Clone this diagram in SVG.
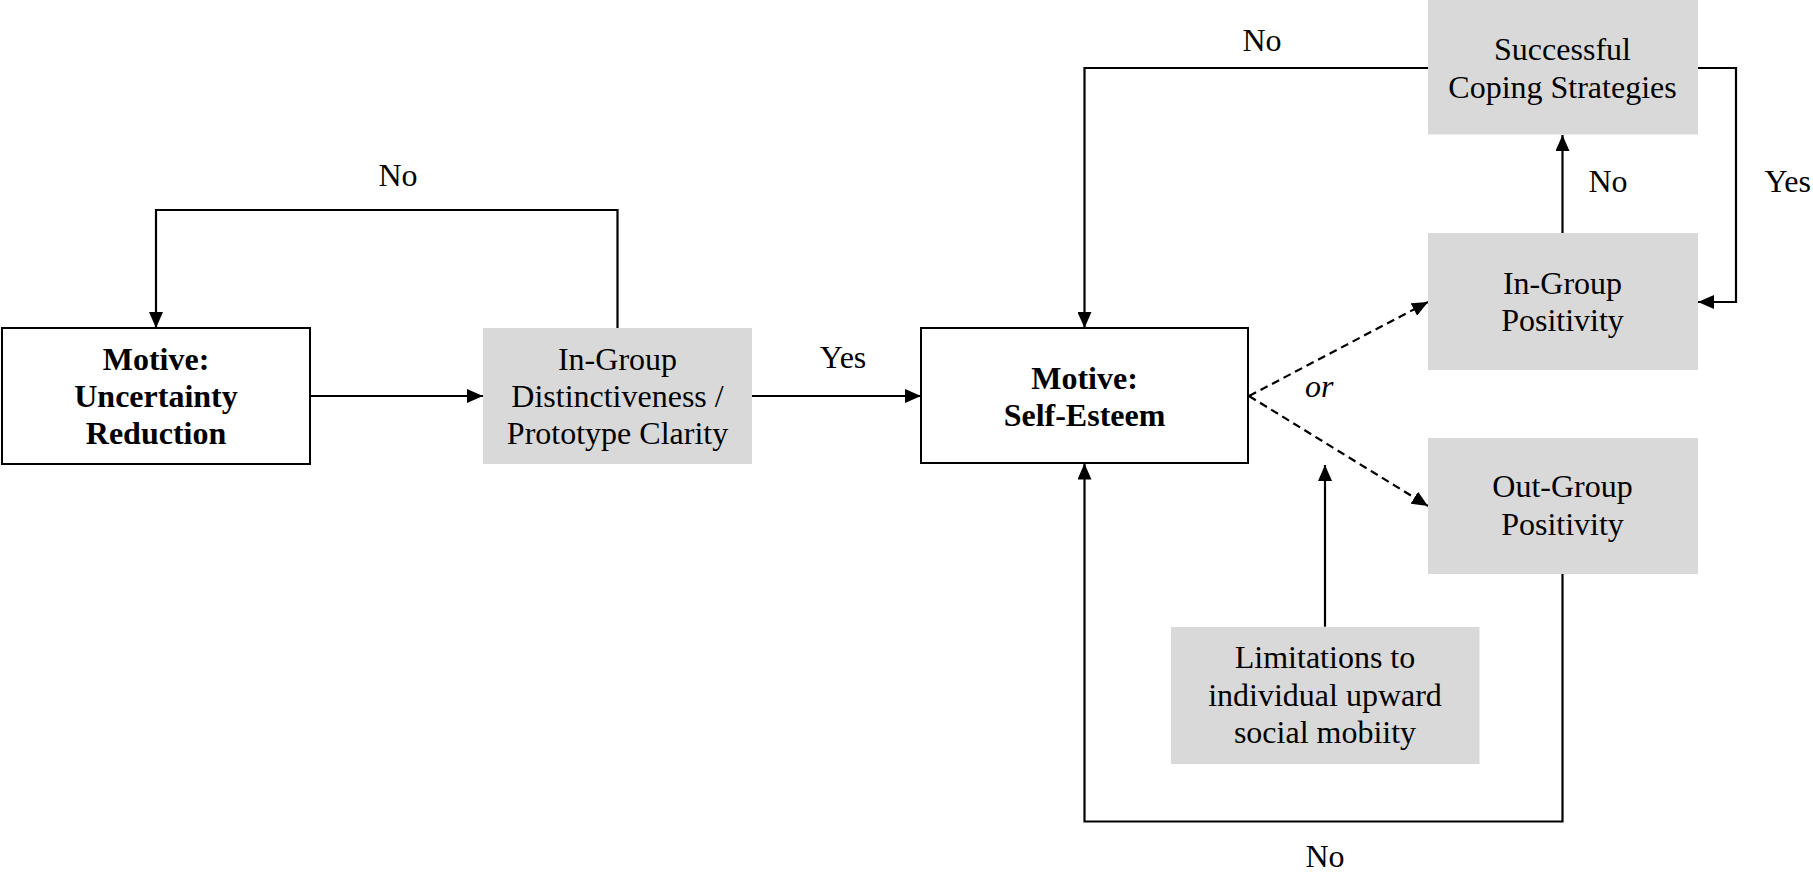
<svg xmlns="http://www.w3.org/2000/svg" width="1813" height="873" viewBox="0 0 1813 873">
<defs>
<marker id="arr" markerUnits="userSpaceOnUse" markerWidth="16" markerHeight="14" refX="16" refY="7" orient="auto">
<path d="M0,0 L16,7 L0,14 z" fill="#000"/>
</marker>
<style>
.t{font-family:"Liberation Serif","Times New Roman",serif;font-size:32px;fill:#000;text-anchor:middle}
.b{font-weight:bold}
.lbl{font-family:"Liberation Serif","Times New Roman",serif;font-size:32px;fill:#000;text-anchor:middle}
.box{fill:#fff;stroke:#000;stroke-width:2}
.gray{fill:#d9d9d9}
.ln{fill:none;stroke:#000;stroke-width:2.2;marker-end:url(#arr)}
.ds{fill:none;stroke:#000;stroke-width:2.2;stroke-dasharray:8,5;marker-end:url(#arr)}
</style>
</defs>
<rect width="1813" height="873" fill="#fff"/>

<g id="connectors">
<path class="ln" d="M310,396 H483"/>
<path class="ln" d="M752,396 H921"/>
<path class="ln" d="M617.5,328 V210 H156 V328"/>
<path class="ln" d="M1428,68 H1084.5 V328"/>
<path class="ln" d="M1697.7,68 H1736 V302 H1698"/>
<path class="ln" d="M1562.5,233 V135"/>
<path class="ln" d="M1562.5,574 V821.5 H1084.5 V463.5"/>
<path class="ln" d="M1325,626.7 V465"/>
<path class="ds" d="M1249,396 L1428,302"/>
<path class="ds" d="M1249,396 L1428,506"/>
</g>

<g id="labels">
<text class="lbl" x="398" y="186">No</text>
<text class="lbl" x="843" y="368">Yes</text>
<text class="lbl" x="1262" y="50.5">No</text>
<text class="lbl" x="1608" y="191.7">No</text>
<text class="lbl" x="1811" y="191.7" style="text-anchor:end">Yes</text>
<text class="lbl" x="1305" y="396.7" style="text-anchor:start;font-style:italic">or</text>
<text class="lbl" x="1325" y="866.7">No</text>
</g>

<g id="uncertainty">
<rect class="box" x="2" y="328" width="308" height="136"/>
<text class="t b" x="156" y="370">Motive:</text>
<text class="t b" x="156" y="407">Uncertainty</text>
<text class="t b" x="156" y="444">Reduction</text>
</g>

<g id="distinctiveness">
<rect class="gray" x="483" y="328" width="269" height="136"/>
<text class="t" x="617.5" y="370">In-Group</text>
<text class="t" x="617.5" y="407">Distinctiveness /</text>
<text class="t" x="617.5" y="444">Prototype Clarity</text>
</g>

<g id="selfesteem">
<rect class="box" x="921" y="328" width="327" height="135"/>
<text class="t b" x="1084.5" y="389">Motive:</text>
<text class="t b" x="1084.5" y="426">Self-Esteem</text>
</g>

<g id="coping">
<rect class="gray" x="1428" y="0" width="270" height="134.5"/>
<text class="t" x="1562.5" y="60">Successful</text>
<text class="t" x="1562.5" y="97.7">Coping Strategies</text>
</g>

<g id="ingroup">
<rect class="gray" x="1428" y="233" width="270" height="137"/>
<text class="t" x="1562.5" y="293.5">In-Group</text>
<text class="t" x="1562.5" y="331">Positivity</text>
</g>

<g id="outgroup">
<rect class="gray" x="1428" y="438" width="270" height="136"/>
<text class="t" x="1562.5" y="497">Out-Group</text>
<text class="t" x="1562.5" y="535">Positivity</text>
</g>

<g id="limitations">
<rect class="gray" x="1171" y="627" width="308.5" height="137"/>
<text class="t" x="1325" y="668">Limitations to</text>
<text class="t" x="1325" y="705.5">individual upward</text>
<text class="t" x="1325" y="743">social mobiity</text>
</g>
</svg>
